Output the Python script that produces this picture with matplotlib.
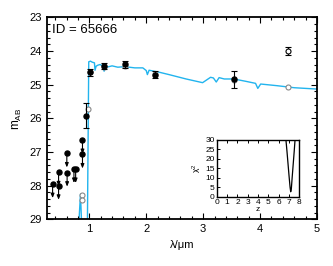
import numpy as np
import matplotlib.pyplot as plt
from matplotlib.ticker import MultipleLocator

plt.rcParams['font.family'] = ['Liberation Sans', 'DejaVu Sans']
plt.rcParams['mathtext.fontset'] = 'custom'
plt.rcParams['mathtext.rm'] = 'Liberation Sans'
plt.rcParams['mathtext.it'] = 'Liberation Sans:italic'

# best-fit SED (model spectrum)
lam_sed = [0.80, 0.845, 0.875, 0.96, 0.99, 1.02, 1.05, 1.09, 1.10, 1.12, 1.15, 1.19,
           1.24, 1.26, 1.28, 1.33, 1.40, 1.50, 1.58, 1.70, 1.80, 1.94, 2.00, 2.02,
           2.05, 2.23, 2.40, 2.70, 2.99, 3.06, 3.13, 3.18, 3.23, 3.28, 3.37, 3.54,
           3.75, 3.92, 3.96, 4.01, 4.30, 4.60, 5.00]
mag_sed = [29.6, 28.25, 29.6, 30.5, 24.32, 24.30, 24.33, 24.35, 24.57, 24.45, 24.42, 24.40,
           24.45, 24.60, 24.45, 24.47, 24.44, 24.48, 24.47, 24.48, 24.50, 24.50, 24.58, 24.70,
           24.57, 24.63, 24.70, 24.83, 24.94, 24.86, 24.78, 24.80, 24.92, 24.79, 24.83, 24.83,
           24.90, 24.96, 25.11, 24.98, 25.03, 25.09, 25.13]

# detections
lam_det = [0.95, 1.02, 1.25, 1.62, 2.15, 3.55]
mag_det = [25.92, 24.63, 24.45, 24.39, 24.70, 24.84]
err_det = [0.37, 0.10, 0.09, 0.10, 0.10, 0.26]

# IRAC 4.5 (open symbol)
lam_open = [4.49]
mag_open = [23.99]
err_open = [0.12]

# upper limits
lam_lim = [0.355, 0.46, 0.46, 0.605, 0.61, 0.73, 0.76, 0.88, 0.88]
mag_lim = [27.95, 27.60, 28.00, 27.04, 27.61, 27.50, 27.50, 26.64, 27.07]

# model photometry
lam_mod = [0.875, 0.88, 0.97, 1.02, 1.25, 1.62, 2.15, 3.55, 4.49]
mag_mod = [28.27, 28.44, 25.72, 24.62, 24.48, 24.45, 24.68, 24.86, 25.07]

# chi2(z)
z_chi = [6.70, 6.80, 6.90, 7.00, 7.10, 7.16, 7.22, 7.30, 7.40, 7.50, 7.58]
chi2 = [30, 24, 17.5, 11, 5, 2.6, 4, 10, 17, 24, 30]

blue = '#22b4ee'

fig = plt.figure(figsize=(3.33, 2.66), dpi=100)
ax = fig.add_axes([0.140, 0.1756, 0.812, 0.759])

ax.plot(lam_sed, mag_sed, color=blue, lw=1.0, zorder=1)
ax.plot(lam_mod, mag_mod, 'o', ms=3.6, mfc='white', mec='#888888', mew=0.8, zorder=2)

ax.errorbar(lam_det, mag_det, yerr=err_det, fmt='o', color='black', ms=3.6,
            elinewidth=0.8, capsize=2.5, capthick=0.8, zorder=3)
ax.errorbar(lam_open, mag_open, yerr=err_open, fmt='o', color='black', mfc='white',
            ms=3.6, mew=0.8, elinewidth=0.8, capsize=2.5, capthick=0.8, zorder=3)

arr = 0.42
for x, y in zip(lam_lim, mag_lim):
    ax.annotate('', xy=(x, y + arr), xytext=(x, y),
                arrowprops=dict(arrowstyle='-|>,head_length=0.25,head_width=0.1',
                                color='black', lw=0.8, shrinkA=0, shrinkB=0), zorder=3)
ax.plot(lam_lim, mag_lim, 'o', color='black', ms=3.6, zorder=4)

ax.set_xlim(0.25, 5)
ax.set_ylim(29, 23)
ax.xaxis.set_major_locator(MultipleLocator(1))
ax.xaxis.set_minor_locator(MultipleLocator(0.2))
ax.yaxis.set_major_locator(MultipleLocator(1))
ax.yaxis.set_minor_locator(MultipleLocator(0.2))
ax.tick_params(which='both', direction='in', top=True, right=True, labelsize=8, width=0.8)
ax.tick_params(which='major', length=4)
ax.tick_params(which='minor', length=2)
for s in ax.spines.values():
    s.set_linewidth(1.3)
ax.set_xlabel('λ/μm', fontsize=8, labelpad=4)
ax.set_ylabel(r'm$_{\mathregular{AB}}$', fontsize=8.5, labelpad=4)
ax.text(0.02, 0.937, 'ID = 65666', transform=ax.transAxes, fontsize=9.5, va='center')

ins = fig.add_axes([0.651, 0.2605, 0.248, 0.2132])
ins.plot(z_chi, chi2, color='black', lw=0.9)
ins.set_xlim(0, 8)
ins.set_ylim(0, 30)
ins.xaxis.set_major_locator(MultipleLocator(1))
ins.yaxis.set_major_locator(MultipleLocator(5))
ins.tick_params(direction='in', top=True, labelsize=6, length=2.5, width=0.7, pad=1.5)
for s in ins.spines.values():
    s.set_linewidth(1.0)
ins.set_xlabel('z', fontsize=6, labelpad=0)
ins.set_ylabel(r'χ$^{\mathregular{2}}$', fontsize=6, labelpad=1)

fig.savefig('out.png', dpi=100)
